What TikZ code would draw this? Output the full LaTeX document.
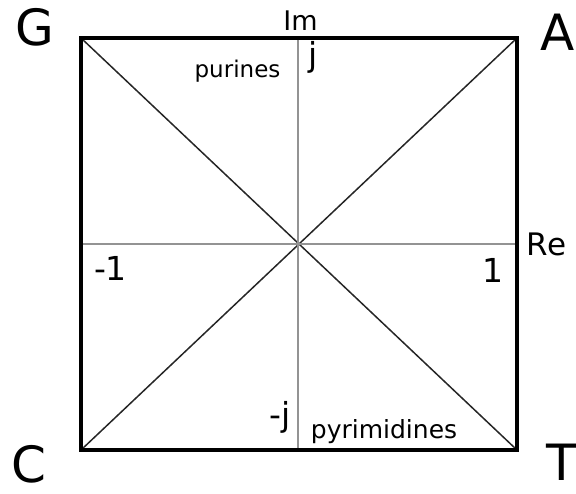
\documentclass[tikz,border=0pt]{standalone}
\usepackage{fontspec}
\setmainfont{DejaVu Sans}
\tikzset{
  lbl/.style={inner sep=0pt, outer sep=0pt, anchor=base},
  corner/.style={lbl, font=\fontsize{50}{50}\selectfont},
  small/.style={lbl, font=\fontsize{24}{24}\selectfont},
  num/.style={lbl, font=\fontsize{33}{33}\selectfont},
  frame/.style={line width=3.5pt, black},
  axis/.style={line width=2pt, gray!85},
  diag/.style={line width=1.5pt, black!85}
}
\begin{document}
\begin{tikzpicture}[x=1pt,y=-1pt]
\useasboundingbox (0,0) rectangle (576,493);
\coordinate (tl) at (81,38);
\coordinate (tr) at (517,38);
\coordinate (bl) at (81,450);
\coordinate (br) at (517,450);
\coordinate (o) at (299,244);
\coordinate (yt) at (298,38);
\coordinate (yb) at (298,450);
\coordinate (xl) at (81,244);
\coordinate (xr) at (517,244);
\draw[diag] (tl) -- (br);
\draw[diag] (tr) -- (bl);
\draw[axis] (yt) -- (yb);
\draw[axis] (xl) -- (xr);
\draw[frame] (tl) -- (tr) -- (br) -- (bl) -- cycle;
\node[corner] (G) at (34.5,45) {G};
\node[corner] (A) at (558,50) {A};
\node[corner] (C) at (29,482) {C};
\node[corner] (T) at (562,480) {T};
\node[small, font=\fontsize{27}{27}\selectfont] (Im) at (300.5,30) {Im};
\node[num, font=\fontsize{31}{31}\selectfont] (Re) at (546.5,255) {Re};
\node[small, font=\fontsize{23}{23}\selectfont] (pur) at (237.5,77) {purines};
\node[small, font=\fontsize{25}{25}\selectfont] (pyr) at (384,438) {pyrimidines};
\node[num] (j) at (313.5,66) {j};
\node[num] (mj) at (280.5,426) {-j};
\node[num] (m1) at (110.5,280) {-1};
\node[num] (one) at (492.5,282) {1};
\end{tikzpicture}
\end{document}
